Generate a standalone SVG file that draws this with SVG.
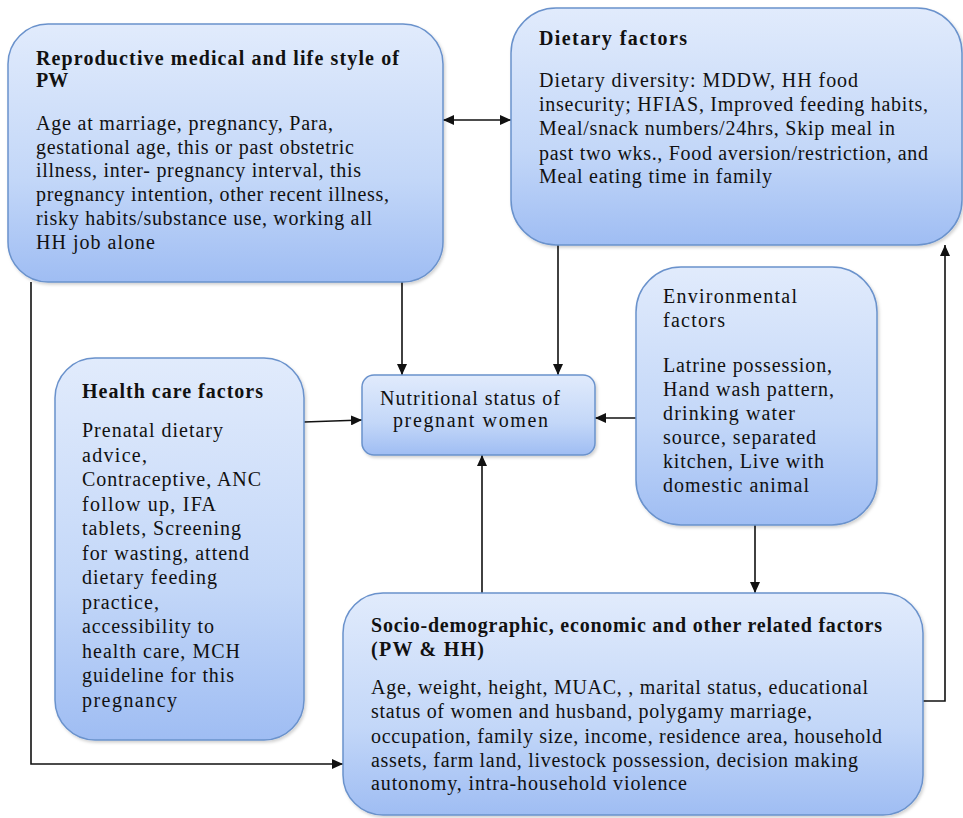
<svg xmlns="http://www.w3.org/2000/svg" width="963" height="818" viewBox="0 0 963 818">
<defs>
<linearGradient id="g" x1="0" y1="0" x2="0" y2="1">
<stop offset="0" stop-color="#e1ebfc"/>
<stop offset="0.6" stop-color="#c3d7f8"/>
<stop offset="1" stop-color="#9fbdf3"/>
</linearGradient>
<marker id="ah" markerUnits="userSpaceOnUse" markerWidth="11" markerHeight="10" refX="11" refY="5" orient="auto-start-reverse">
<path d="M0,0 L11,5 L0,10 Z" fill="#111"/>
</marker>
<filter id="sh" x="-5%" y="-5%" width="115%" height="115%">
<feDropShadow dx="1.5" dy="2" stdDeviation="1.5" flood-color="#000" flood-opacity="0.18"/>
</filter>
</defs>
<style>
.box{fill:url(#g);stroke:#6a92cc;stroke-width:1.5;filter:url(#sh)}
.t{font-family:"Liberation Serif","Times New Roman",serif;font-size:20px;font-weight:bold;fill:#111}
.b{font-family:"Liberation Serif","Times New Roman",serif;font-size:20px;fill:#111}
.c{fill:none;stroke:#111;stroke-width:1.6}
</style>
<rect width="963" height="818" fill="#fff"/>

<g id="connectors">
<line class="c" x1="443" y1="120" x2="511" y2="120" marker-start="url(#ah)" marker-end="url(#ah)"/>
<line class="c" x1="402" y1="282" x2="402" y2="375" marker-end="url(#ah)"/>
<line class="c" x1="558" y1="245" x2="558" y2="375" marker-end="url(#ah)"/>
<polyline class="c" points="31,282 31,764 343,764" marker-end="url(#ah)"/>
<line class="c" x1="304" y1="422" x2="362" y2="420" marker-end="url(#ah)"/>
<line class="c" x1="636" y1="418" x2="595" y2="418" marker-end="url(#ah)"/>
<line class="c" x1="755" y1="525" x2="755" y2="593" marker-end="url(#ah)"/>
<line class="c" x1="482" y1="613" x2="482" y2="455" marker-end="url(#ah)"/>
<polyline class="c" points="923,701 945,701 945,245" marker-end="url(#ah)"/>
</g>

<g id="reproductive">
<rect class="box" x="8" y="24" width="435" height="258" rx="40"/>
<text class="t" x="36" y="65" textLength="363" lengthAdjust="spacing">Reproductive medical and life style of</text>
<text class="t" x="36" y="87">PW</text>
<text class="b" x="36" y="130" textLength="297" lengthAdjust="spacing">Age at marriage, pregnancy, Para,</text>
<text class="b" x="36" y="154" textLength="318" lengthAdjust="spacing">gestational age, this or past obstetric</text>
<text class="b" x="36" y="177" textLength="325" lengthAdjust="spacing">illness, inter- pregnancy interval, this</text>
<text class="b" x="36" y="201" textLength="353" lengthAdjust="spacing">pregnancy intention, other recent illness,</text>
<text class="b" x="36" y="225" textLength="336" lengthAdjust="spacing">risky habits/substance use, working all</text>
<text class="b" x="36" y="249" textLength="119" lengthAdjust="spacing">HH job alone</text>
</g>

<g id="dietary">
<rect class="box" x="511" y="8" width="451" height="237" rx="45"/>
<text class="t" x="539" y="45" textLength="148" lengthAdjust="spacing">Dietary factors</text>
<text class="b" x="539" y="87" textLength="319" lengthAdjust="spacing">Dietary diversity: MDDW, HH food</text>
<text class="b" x="539" y="111" textLength="389" lengthAdjust="spacing">insecurity; HFIAS, Improved feeding habits,</text>
<text class="b" x="539" y="135" textLength="356" lengthAdjust="spacing">Meal/snack numbers/24hrs, Skip meal in</text>
<text class="b" x="539" y="160" textLength="389" lengthAdjust="spacing">past two wks., Food aversion/restriction, and</text>
<text class="b" x="539" y="183" textLength="233" lengthAdjust="spacing">Meal eating time in family</text>
</g>

<g id="nutritional">
<rect class="box" x="362" y="375" width="233" height="80" rx="12"/>
<text class="b" x="380" y="405" textLength="180" lengthAdjust="spacing">Nutritional status of</text>
<text class="b" x="393" y="427" textLength="155" lengthAdjust="spacing">pregnant women</text>
</g>

<g id="healthcare">
<rect class="box" x="55" y="358" width="249" height="382" rx="40"/>
<text class="t" x="82" y="398" textLength="181" lengthAdjust="spacing">Health care factors</text>
<text class="b" x="82" y="437" textLength="141" lengthAdjust="spacing">Prenatal dietary</text>
<text class="b" x="82" y="461.5" textLength="65" lengthAdjust="spacing">advice,</text>
<text class="b" x="82" y="486" textLength="179" lengthAdjust="spacing">Contraceptive, ANC</text>
<text class="b" x="82" y="510.5" textLength="134" lengthAdjust="spacing">follow up, IFA</text>
<text class="b" x="82" y="535" textLength="159" lengthAdjust="spacing">tablets, Screening</text>
<text class="b" x="82" y="559.5" textLength="167" lengthAdjust="spacing">for wasting, attend</text>
<text class="b" x="82" y="584" textLength="135" lengthAdjust="spacing">dietary feeding</text>
<text class="b" x="82" y="608.5" textLength="77" lengthAdjust="spacing">practice,</text>
<text class="b" x="82" y="633" textLength="132" lengthAdjust="spacing">accessibility to</text>
<text class="b" x="82" y="657.5" textLength="158" lengthAdjust="spacing">health care, MCH</text>
<text class="b" x="82" y="682" textLength="152" lengthAdjust="spacing">guideline for this</text>
<text class="b" x="82" y="706.5" textLength="95" lengthAdjust="spacing">pregnancy</text>
</g>

<g id="environmental">
<rect class="box" x="636" y="267" width="241" height="258" rx="45"/>
<text class="b" x="663" y="303" textLength="134" lengthAdjust="spacing">Environmental</text>
<text class="b" x="663" y="327" textLength="62" lengthAdjust="spacing">factors</text>
<text class="b" x="663" y="372" textLength="169" lengthAdjust="spacing">Latrine possession,</text>
<text class="b" x="663" y="396" textLength="171" lengthAdjust="spacing">Hand wash pattern,</text>
<text class="b" x="663" y="420" textLength="132" lengthAdjust="spacing">drinking water</text>
<text class="b" x="663" y="444" textLength="153" lengthAdjust="spacing">source, separated</text>
<text class="b" x="663" y="468" textLength="161" lengthAdjust="spacing">kitchen, Live with</text>
<text class="b" x="663" y="492" textLength="146" lengthAdjust="spacing">domestic animal</text>
</g>

<g id="sociodemographic">
<rect class="box" x="343" y="593" width="580" height="222" rx="40"/>
<text class="t" x="371" y="632" textLength="511" lengthAdjust="spacing">Socio-demographic, economic and other related factors</text>
<text class="t" x="371" y="656" textLength="113" lengthAdjust="spacing">(PW &amp; HH)</text>
<text class="b" x="371" y="694" textLength="497" lengthAdjust="spacing">Age, weight, height, MUAC, , marital status, educational</text>
<text class="b" x="371" y="718" textLength="441" lengthAdjust="spacing">status of women and husband, polygamy marriage,</text>
<text class="b" x="371" y="743" textLength="511" lengthAdjust="spacing">occupation, family size, income, residence area, household</text>
<text class="b" x="371" y="767" textLength="487" lengthAdjust="spacing">assets, farm land, livestock possession, decision making</text>
<text class="b" x="371" y="790" textLength="316" lengthAdjust="spacing">autonomy, intra-household violence</text>
</g>
</svg>
